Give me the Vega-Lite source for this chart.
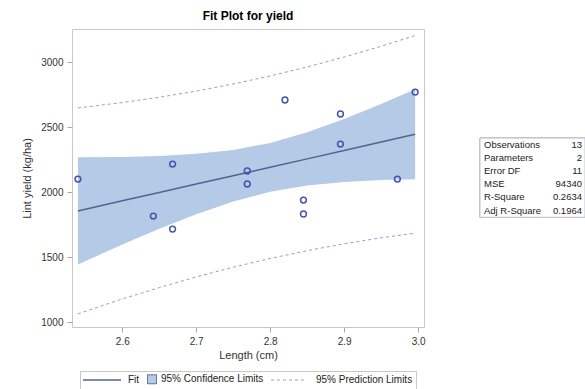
{
  "$schema": "https://vega.github.io/schema/vega-lite/v6.json",
  "background": "white",
  "padding": {"left": 21, "top": 9, "right": 2, "bottom": 0},
  "spacing": 53,
  "config": {
    "font": "Liberation Sans",
    "view": {"stroke": null},
    "legend": {"layout": {"bottom": {"anchor": "middle"}}},
    "axis": {
      "grid": false,
      "domain": false,
      "tickColor": "#a8a8a8",
      "tickSize": 5,
      "labelFontSize": 10,
      "labelColor": "#333333",
      "titleFontSize": 11,
      "titleFontWeight": "normal",
      "titleColor": "#333333"
    }
  },
  "datasets": {
    "curve": [
      {"length": 2.54, "fit": 1855, "lcl": 1443, "ucl": 2267, "lpl": 1063, "upl": 2647},
      {"length": 2.6, "fit": 1933, "lcl": 1596, "ucl": 2270, "lpl": 1178, "upl": 2688},
      {"length": 2.65, "fit": 1997, "lcl": 1717, "ucl": 2277, "lpl": 1265, "upl": 2729},
      {"length": 2.7, "fit": 2062, "lcl": 1830, "ucl": 2294, "lpl": 1347, "upl": 2776},
      {"length": 2.75, "fit": 2126, "lcl": 1928, "ucl": 2324, "lpl": 1422, "upl": 2831},
      {"length": 2.8, "fit": 2191, "lcl": 2003, "ucl": 2378, "lpl": 1489, "upl": 2893},
      {"length": 2.85, "fit": 2255, "lcl": 2051, "ucl": 2459, "lpl": 1549, "upl": 2962},
      {"length": 2.9, "fit": 2320, "lcl": 2078, "ucl": 2562, "lpl": 1602, "upl": 3038},
      {"length": 2.95, "fit": 2385, "lcl": 2092, "ucl": 2677, "lpl": 1648, "upl": 3121},
      {"length": 2.996, "fit": 2444, "lcl": 2098, "ucl": 2790, "lpl": 1684, "upl": 3204}
    ],
    "obs": [
      {"length": 2.54, "yield": 2100},
      {"length": 2.642, "yield": 1815},
      {"length": 2.668, "yield": 2215},
      {"length": 2.668, "yield": 1715},
      {"length": 2.769, "yield": 2162},
      {"length": 2.769, "yield": 2062},
      {"length": 2.82, "yield": 2708},
      {"length": 2.845, "yield": 1938},
      {"length": 2.845, "yield": 1831},
      {"length": 2.895, "yield": 2369},
      {"length": 2.895, "yield": 2600},
      {"length": 2.972, "yield": 2100},
      {"length": 2.996, "yield": 2769}
    ],
    "stats": [
      {"row": 1, "label": "Observations", "value": "13"},
      {"row": 2, "label": "Parameters", "value": "2"},
      {"row": 3, "label": "Error DF", "value": "11"},
      {"row": 4, "label": "MSE", "value": "94340"},
      {"row": 5, "label": "R-Square", "value": "0.2634"},
      {"row": 6, "label": "Adj R-Square", "value": "0.1964"}
    ]
  },
  "resolve": {
    "scale": {"color": "independent", "x": "independent", "y": "independent"},
    "legend": {"color": "independent"}
  },
  "hconcat": [
    {
      "title": {
        "text": "Fit Plot for yield",
        "fontSize": 12,
        "fontWeight": "bold",
        "color": "#000000",
        "anchor": "middle",
        "frame": "group",
        "offset": 6
      },
      "width": 352,
      "height": 298,
      "view": {"stroke": "#c8c8c8"},
      "encoding": {
        "x": {
          "field": "length",
          "type": "quantitative",
          "scale": {"domain": [2.532, 3.008], "nice": false, "zero": false},
          "axis": {
            "title": "Length (cm)",
            "values": [2.6, 2.7, 2.8, 2.9, 3.0],
            "format": ".1f",
            "labelPadding": 4,
            "titlePadding": 3
          }
        }
      },
      "layer": [
        {
          "data": {"name": "curve"},
          "mark": {"type": "area", "opacity": 1},
          "encoding": {
            "y": {
              "field": "lcl",
              "type": "quantitative",
              "scale": {"domain": [962, 3254], "nice": false, "zero": false},
              "axis": {
                "title": "Lint yield (kg/ha)",
                "values": [1000, 1500, 2000, 2500, 3000],
                "format": "d",
                "labelPadding": 4,
                "titlePadding": 8
              }
            },
            "y2": {"field": "ucl"},
            "color": {
              "datum": "95% Confidence Limits",
              "scale": {
                "domain": ["Fit", "95% Confidence Limits", "95% Prediction Limits"],
                "range": ["#50658c", "#b5cae6", "#a096d0"]
              },
              "legend": {
                "title": null,
                "orient": "bottom",
                "direction": "horizontal",
                "strokeColor": "#c8c8c8",
                "padding": 3,
                "offset": 11,
                "labelFontSize": 10,
                "labelColor": "#222222",
                "labelOffset": 4,
                "columnPadding": 5,
                "symbolType": "square",
                "symbolSize": 81,
                "symbolStrokeWidth": 1,
                "encoding": {
                  "symbols": {
                    "shape": {"value": {"expr": "datum.value === '95% Confidence Limits' ? 'square' : 'stroke'"}},
                    "size": {"value": {"expr": "datum.value === '95% Confidence Limits' ? 81 : datum.value === 'Fit' ? 1444 : 1296"}},
                    "x": {"value": {"expr": "datum.value === '95% Confidence Limits' ? 5 : datum.value === 'Fit' ? 19 : 18"}},
                    "fill": {"value": {"expr": "datum.value === '95% Confidence Limits' ? '#b5cae6' : 'transparent'"}},
                    "stroke": {"value": {"expr": "datum.value === 'Fit' ? '#50658c' : datum.value === '95% Prediction Limits' ? '#a096d0' : '#4a5f8c'"}},
                    "strokeDash": {"value": {"expr": "datum.value === '95% Prediction Limits' ? [3, 3] : [1, 0]"}},
                    "strokeWidth": {"value": {"expr": "datum.value === 'Fit' ? 1.5 : 1"}},
                    "opacity": {"value": 1}
                  },
                  "labels": {
                    "dx": {"value": {"expr": "datum.value === '95% Confidence Limits' ? 0 : 31"}}
                  }
                }
              }
            }
          }
        },
        {
          "data": {"name": "curve"},
          "mark": {"type": "line", "strokeDash": [3, 3], "strokeWidth": 1, "stroke": "#a096d0"},
          "encoding": {
            "y": {"field": "upl", "type": "quantitative", "axis": {"title": "Lint yield (kg/ha)"}}
          }
        },
        {
          "data": {"name": "curve"},
          "mark": {"type": "line", "strokeDash": [3, 3], "strokeWidth": 1, "stroke": "#a096d0"},
          "encoding": {
            "y": {"field": "lpl", "type": "quantitative", "axis": {"title": "Lint yield (kg/ha)"}}
          }
        },
        {
          "data": {"name": "curve"},
          "mark": {"type": "line", "strokeWidth": 1.5, "stroke": "#50658c"},
          "encoding": {
            "y": {"field": "fit", "type": "quantitative", "axis": {"title": "Lint yield (kg/ha)"}}
          }
        },
        {
          "data": {"name": "obs"},
          "mark": {"type": "point", "shape": "circle", "filled": false, "size": 34, "strokeWidth": 1.5, "color": "#4553b0", "opacity": 1},
          "encoding": {
            "y": {"field": "yield", "type": "quantitative", "axis": {"title": "Lint yield (kg/ha)"}}
          }
        }
      ]
    },
    {
      "width": 105,
      "height": 298,
      "data": {"name": "stats"},
      "encoding": {
        "x": {"datum": 0, "type": "quantitative", "scale": {"domain": [0, 1], "nice": false, "zero": false}, "axis": null},
        "y": {"field": "row", "type": "quantitative", "scale": {"domain": [-7.76, 14.81], "reverse": true, "nice": false, "zero": false}, "axis": null}
      },
      "layer": [
        {
          "mark": {"type": "rect", "fill": "white", "stroke": "#c4c4c4", "strokeWidth": 1},
          "encoding": {
            "x2": {"datum": 1},
            "y": {"datum": 0.5, "type": "quantitative"},
            "y2": {"datum": 6.5}
          }
        },
        {
          "mark": {"type": "text", "align": "left", "baseline": "middle", "dx": 4, "fontSize": 9.5, "color": "#222222"},
          "encoding": {
            "text": {"field": "label"}
          }
        },
        {
          "mark": {"type": "text", "align": "right", "baseline": "middle", "dx": -3, "fontSize": 9.5, "color": "#222222"},
          "encoding": {
            "x": {"datum": 1, "type": "quantitative"},
            "text": {"field": "value"}
          }
        }
      ]
    }
  ]
}
